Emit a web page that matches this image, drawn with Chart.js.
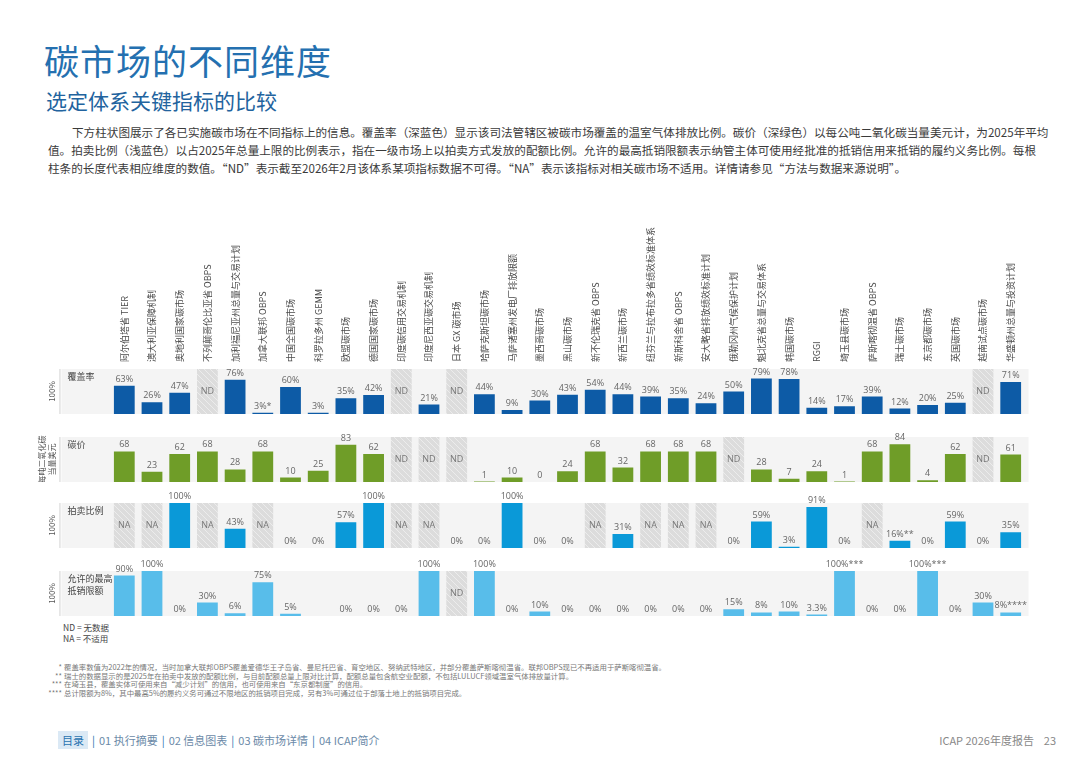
<!DOCTYPE html>
<html lang="zh">
<head>
<meta charset="utf-8">
<script src="https://cdn.jsdelivr.net/npm/chart.js@4.4.1/dist/chart.umd.min.js"></script>
<style>
  body { margin: 0; width: 1080px; height: 764px; background: #fff; position: relative; overflow: hidden;
         font-family: "Noto Sans CJK SC", "Noto Sans", sans-serif; }
  .abs { position: absolute; white-space: nowrap; }
  #title { left: 44px; top: 34px; font-size: 35px; color: #2470b0; letter-spacing: 1px; }
  #subtitle { left: 46px; top: 85px; font-size: 21px; color: #22639e; }
  #intro { left: 48px; top: 123px; width: 982px; font-size: 11.6px; line-height: 18px; color: #3a3a3a; white-space: normal; }
  #intro div { text-align: justify; text-align-last: justify; white-space: nowrap; }
  #intro div.first { padding-left: 24px; }
  #intro div.last { text-align-last: left; }
  .row { position: absolute; left: 0; width: 1080px; }
  #legend { left: 63px; top: 622px; font-size: 8.5px; line-height: 11px; color: #444; }
  #notes { left: 36px; top: 663px; font-size: 7.4px; line-height: 8.5px; color: #777; }
  #notes span { display: inline-block; width: 26px; text-align: right; margin-right: 2px; }
  #nav { left: 58px; top: 732px; font-size: 11px; color: #6b8aa8; }
  #nav .toc { background: #dbe9f5; color: #2a73b0; padding: 1px 4px; }
  #nav .sep { color: #2a73b0; margin: 0 4px; }
  #page { right: 24px; top: 732px; font-size: 11px; color: #888; }
</style>
</head>
<body>
<div class="abs" id="title">碳市场的不同维度</div>
<div class="abs" id="subtitle">选定体系关键指标的比较</div>
<div class="abs" id="intro">
  <div class="first">下方柱状图展示了各已实施碳市场在不同指标上的信息。覆盖率（深蓝色）显示该司法管辖区被碳市场覆盖的温室气体排放比例。碳价（深绿色）以每公吨二氧化碳当量美元计，为2025年平均</div>
  <div>值。拍卖比例（浅蓝色）以占2025年总量上限的比例表示，指在一级市场上以拍卖方式发放的配额比例。允许的最高抵销限额表示纳管主体可使用经批准的抵销信用来抵销的履约义务比例。每根</div>
  <div class="last">柱条的长度代表相应维度的数值。“ND”表示截至2026年2月该体系某项指标数据不可得。“NA”表示该指标对相关碳市场不适用。详情请参见“方法与数据来源说明”。</div>
</div>

<div class="row" style="top:219px;height:195px"><canvas id="coverageChart"></canvas></div>
<div class="row" style="top:415px;height:67px"><canvas id="priceChart"></canvas></div>
<div class="row" style="top:481px;height:67px"><canvas id="auctionChart"></canvas></div>
<div class="row" style="top:549px;height:67px"><canvas id="offsetChart"></canvas></div>

<div class="abs" id="legend">ND = 无数据<br>NA = 不适用</div>
<div class="abs" id="notes">
  <div><span>*</span>覆盖率数值为2022年的情况，当时加拿大联邦OBPS覆盖爱德华王子岛省、曼尼托巴省、育空地区、努纳武特地区，并部分覆盖萨斯喀彻温省。联邦OBPS现已不再适用于萨斯喀彻温省。</div>
  <div><span>**</span>瑞士的数据显示的是2025年在拍卖中发放的配额比例，与目前配额总量上限对比计算，配额总量包含航空业配额，不包括LULUCF领域温室气体排放量计算。</div>
  <div><span>***</span>在埼玉县，覆盖实体可使用来自“减少计划”的信用，也可使用来自“东京都制度”的信用。</div>
  <div><span>****</span>总计限额为8%，其中最高5%的履约义务可通过不限地区的抵销项目完成，另有3%可通过位于部落土地上的抵销项目完成。</div>
</div>
<div class="abs" id="nav"><span class="toc">目录</span><span class="sep">|</span>01 执行摘要<span class="sep">|</span>02 信息图表<span class="sep">|</span>03 碳市场详情<span class="sep">|</span>04 ICAP简介</div>
<div class="abs" id="page">ICAP 2026年度报告 &nbsp;&nbsp; 23</div>

<script>
const markets = [
  "阿尔伯塔省 TIER", "澳大利亚保障机制", "奥地利国家碳市场", "不列颠哥伦比亚省 OBPS",
  "加利福尼亚州总量与交易计划", "加拿大联邦 OBPS", "中国全国碳市场", "科罗拉多州 GEMM",
  "欧盟碳市场", "德国国家碳市场", "印度碳信用交易机制", "印度尼西亚碳交易机制",
  "日本 GX 碳市场", "哈萨克斯坦碳市场", "马萨诸塞州发电厂排放限额", "墨西哥碳市场",
  "黑山碳市场", "新不伦瑞克省 OBPS", "新西兰碳市场", "纽芬兰与拉布拉多省绩效标准体系",
  "新斯科舍省 OBPS", "安大略省排放绩效标准计划", "俄勒冈州气候保护计划", "魁北克省总量与交易体系",
  "韩国碳市场", "RGGI", "埼玉县碳市场", "萨斯喀彻温省 OBPS",
  "瑞士碳市场", "东京都碳市场", "英国碳市场", "越南试点碳市场", "华盛顿州总量与投资计划"
];

// % of emissions covered
const coverage = [63, 26, 47, "ND", 76, 3, 60, 3, 35, 42, "ND", 21, "ND", 44, 9, 30, 43,
  54, 44, 39, 35, 24, 50, 79, 78, 14, 17, 39, 12, 20, 25, "ND", 71];
const coverageMarks = { 5: "*" };

// USD per tCO2e, 2025 average
const price = [68, 23, 62, 68, 28, 68, 10, 25, 83, 62, "ND", "ND", "ND", 1, 10, 0, 24,
  68, 32, 68, 68, 68, "ND", 28, 7, 24, 1, 68, 84, 4, 62, "ND", 61];

// % of 2025 cap auctioned
const auction = ["NA", "NA", 100, "NA", 43, "NA", 0, 0, 57, 100, "NA", "NA", 0, 0, 100, 0, 0,
  "NA", 31, "NA", "NA", "NA", 0, 59, 3, 91, 0, "NA", 16, 0, 59, 0, 35];
const auctionMarks = { 28: "**" };

// max offset limit, %
const offset = [90, 100, 0, 30, 6, 75, 5, null, 0, 0, 0, 100, "ND", 100, 0, 10, 0,
  0, 0, 0, 0, 0, 15, 8, 10, 3.3, 100, 0, 0, 100, 0, 30, 8];
const offsetMarks = { 26: "***", 29: "***", 32: "****" };

function hatchPattern() {
  const c = document.createElement("canvas");
  c.width = 6; c.height = 6;
  const g = c.getContext("2d");
  g.fillStyle = "#dcdcdc";
  g.fillRect(0, 0, 6, 6);
  g.strokeStyle = "#ececec";
  g.lineWidth = 1;
  g.beginPath();
  g.moveTo(0, 0); g.lineTo(6, 6);
  g.moveTo(-3, 3); g.lineTo(3, 9);
  g.moveTo(3, -3); g.lineTo(9, 3);
  g.stroke();
  return g.createPattern(c, "repeat");
}

const panelPlugin = {
  id: "panel",
  beforeDatasetsDraw(chart, args, opts) {
    const { ctx, chartArea: a } = chart;
    ctx.save();
    ctx.fillStyle = "#f4f4f4";
    ctx.fillRect(a.left - 49, a.top, a.right - a.left + 53, a.bottom - a.top + 1);
    ctx.strokeStyle = "#d2d2d2";
    ctx.lineWidth = 1;
    ctx.beginPath();
    ctx.moveTo(a.left - 50.5, a.top);
    ctx.lineTo(a.left - 50.5, a.bottom + 1);
    ctx.stroke();

    ctx.fillStyle = "#444";
    ctx.font = '9px "Noto Sans CJK SC"';
    ctx.textBaseline = "top";
    opts.title.forEach((t, i) => ctx.fillText(t, a.left - 43, a.top + 3 + i * 12));

    // rotated axis note on the left
    ctx.translate(a.left - 58, (a.top + a.bottom) / 2);
    ctx.rotate(-Math.PI / 2);
    ctx.textAlign = "center";
    ctx.textBaseline = "middle";
    ctx.fillStyle = "#555";
    ctx.font = '8px "Noto Sans CJK SC"';
    const n = opts.axis.length;
    opts.axis.forEach((t, i) => ctx.fillText(t, 0, (i - (n - 1)) * 10));
    ctx.restore();
  },
  afterDatasetsDraw(chart, args, opts) {
    const { ctx } = chart;
    const values = opts.values;
    const bars = chart.getDatasetMeta(0).data;
    const boxes = chart.getDatasetMeta(1).data;
    ctx.save();
    ctx.textAlign = "center";
    values.forEach((v, i) => {
      if (typeof v === "number") {
        ctx.fillStyle = "#666";
        ctx.font = '9px "Open Sans"';
        ctx.textBaseline = "bottom";
        ctx.fillText(v + opts.unit + (opts.marks[i] || ""), bars[i].x, bars[i].y - 2);
      } else if (typeof v === "string") {
        ctx.fillStyle = "#777";
        ctx.font = '9px "Open Sans"';
        ctx.textBaseline = "middle";
        ctx.fillText(v, boxes[i].x, (boxes[i].y + boxes[i].base) / 2);
      }
    });
    ctx.restore();
  }
};

const namesPlugin = {
  id: "names",
  afterDraw(chart, args, opts) {
    if (!opts.show) return;
    const { ctx, chartArea: a } = chart;
    const x = chart.scales.x;
    ctx.save();
    ctx.fillStyle = "#4a4a4a";
    ctx.font = '9px "Noto Sans CJK SC"';
    ctx.textAlign = "left";
    ctx.textBaseline = "middle";
    markets.forEach((name, i) => {
      ctx.save();
      ctx.translate(x.getPixelForValue(i), a.top - 7);
      ctx.rotate(-Math.PI / 2);
      ctx.fillText(name, 0, 0);
      ctx.restore();
    });
    ctx.restore();
  }
};

function rowChart(id, values, marks, color, max, unit, title, axis, top) {
  const hatch = hatchPattern();
  new Chart(document.getElementById(id), {
    type: "bar",
    data: {
      labels: markets,
      datasets: [
        {
          data: values.map(v => typeof v === "number" ? v : null),
          backgroundColor: color
        },
        {
          data: values.map(v => typeof v === "string" ? max : null),
          backgroundColor: hatch
        }
      ]
    },
    options: {
      responsive: true,
      maintainAspectRatio: false,
      animation: false,
      events: [],
      layout: { padding: { left: 110.45, right: 55.45, top: top, bottom: 0 } },
      datasets: { bar: { grouped: false, barPercentage: 0.75, categoryPercentage: 1 } },
      scales: {
        x: { display: false },
        y: { display: false, min: 0, max: max }
      },
      plugins: {
        legend: { display: false },
        tooltip: { enabled: false },
        panel: { values, marks, unit, title, axis },
        names: { show: id === "coverageChart" }
      }
    },
    plugins: [panelPlugin, namesPlugin]
  });
}

rowChart("coverageChart", coverage, coverageMarks, "#0d5ba6", 100, "%", ["覆盖率"], ["100%"], 150);
rowChart("priceChart", price, {}, "#6f9d28", 100, "", ["碳价"], ["每吨二氧化碳", "当量美元"], 22);
rowChart("auctionChart", auction, auctionMarks, "#0a99d8", 100, "%", ["拍卖比例"], ["100%"], 22);
rowChart("offsetChart", offset, offsetMarks, "#58bdea", 100, "%", ["允许的最高", "抵销限额"], ["100%"], 22);
</script>
</body>
</html>
